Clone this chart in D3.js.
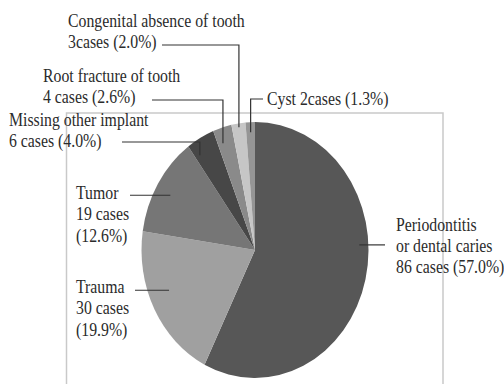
<!DOCTYPE html>
<html>
<head>
<meta charset="utf-8">
<script src="https://cdn.jsdelivr.net/npm/d3@7/dist/d3.min.js"></script>
<style>
  html, body { margin: 0; padding: 0; background: #fff; }
  svg { display: block; }
</style>
</head>
<body>
<svg id="chart" width="504" height="384"></svg>
<script>
// Causes of implant placement (cases)
const categories = [
  "Periodontitis or dental caries",
  "Trauma",
  "Tumor",
  "Missing other implant",
  "Root fracture of tooth",
  "Congenital absence of tooth",
  "Cyst"
];
const caseCounts = [86, 30, 19, 6, 4, 3, 2];
const percentLabels = ["57.0%", "19.9%", "12.6%", "4.0%", "2.6%", "2.0%", "1.3%"];
const labelLines = [
  ["Periodontitis", "or dental caries", "86 cases (57.0%)"],
  ["Trauma", "30 cases", "(19.9%)"],
  ["Tumor", "19 cases", "(12.6%)"],
  ["Missing other implant", "6 cases (4.0%)"],
  ["Root fracture of tooth", "4 cases (2.6%)"],
  ["Congenital absence of tooth", "3cases (2.0%)"],
  ["Cyst 2cases (1.3%)"]
];
const sliceColors = ["#575757", "#a0a0a0", "#767676", "#474747", "#8a8a8a", "#c6c6c6", "#959595"];

// Layout of the chart
const cx = 255, cy = 250, rx = 113.5, ry = 128;
const yStretch = ry / rx;
const lineStep = 21.3;
const fontSize = 15.8;

// Label placement: where the leader touches the slice (t = fraction along the slice,
// r = fraction of radius), and where the text and the leader's elbow sit.
const labelLayout = [
  { t: 0.424, r: 0.92, type: "right", lineTo: 385, textX: 396, baseline: 230.7 },
  { t: 0.57,  r: 0.82, type: "left",  lineFrom: 135, textX: 76, baseline: 293 },
  { t: 0.47,  r: 0.86, type: "left",  lineFrom: 130, textX: 76, baseline: 199 },
  { t: 0.19,  r: 0.886, type: "elbow", row: 142, lineFrom: 122, textX: 9,  baseline: 126 },
  { t: 0.30,  r: 0.88, type: "elbow", row: 100, lineFrom: 152, textX: 43, baseline: 82 },
  { t: 0.50,  r: 0.97, type: "elbow", row: 45,  lineFrom: 162, textX: 68, baseline: 27 },
  { t: 0.50,  r: 0.92, type: "elbow", row: 99,  lineFrom: 263, textX: 267, baseline: 105 }
];

const svg = d3.select("#chart");
svg.append("rect").attr("width", 504).attr("height", 384).attr("fill", "#fff");

// Plot-area frame
svg.append("rect")
  .attr("x", 66.5).attr("y", 113)
  .attr("width", 376.5).attr("height", 320)
  .attr("fill", "none")
  .attr("stroke", "#c9c9c9")
  .attr("stroke-width", 1.5);

const color = d3.scaleOrdinal().domain(categories).range(sliceColors);

const pie = d3.pie().sort(null).value(d => d.value);
const arcs = pie(categories.map((c, i) => ({ name: c, value: caseCounts[i], pct: percentLabels[i] })));

const arc = d3.arc().innerRadius(0).outerRadius(rx);

const pieG = svg.append("g")
  .attr("transform", `translate(${cx},${cy}) scale(1,${yStretch})`);

pieG.selectAll("path")
  .data(arcs)
  .join("path")
  .attr("d", arc)
  .attr("fill", d => color(d.data.name));

// Point on the (stretched) pie for a given angle and radius fraction
function piePoint(angle, frac) {
  return [cx + rx * frac * Math.sin(angle), cy - ry * frac * Math.cos(angle)];
}

const leaderG = svg.append("g")
  .attr("fill", "none")
  .attr("stroke", "#333")
  .attr("stroke-width", 1.2);

const textG = svg.append("g");

arcs.forEach((a, i) => {
  const L = labelLayout[i];
  const ang = a.startAngle + (a.endAngle - a.startAngle) * L.t;
  const [px, py] = piePoint(ang, L.r);
  let pts;
  if (L.type === "right") {
    pts = [[px, py], [L.lineTo, py]];
  } else if (L.type === "left") {
    pts = [[L.lineFrom, py], [px, py]];
  } else {
    pts = [[L.lineFrom, L.row], [px, L.row], [px, py]];
  }
  leaderG.append("path").attr("d", d3.line()(pts));

  labelLines[i].forEach((s, k) => {
    textG.append("text")
      .attr("transform", `translate(${L.textX},${L.baseline + k * lineStep}) scale(1,${yStretch})`)
      .style("font-family", '"Liberation Serif", "Times New Roman", serif')
      .style("font-size", fontSize + "px")
      .style("fill", "#2b2b2b")
      .text(s);
  });
});
</script>
</body>
</html>
